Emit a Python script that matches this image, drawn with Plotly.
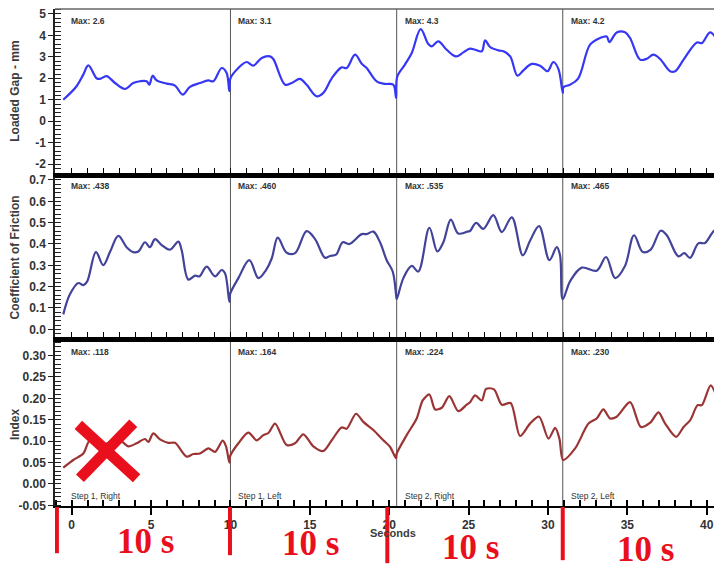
import plotly.graph_objects as go

# ---------------- data ----------------
gap_t = [-0.53, 0.31, 0.73, 1.05, 1.57, 1.78, 2.20, 2.73, 3.36, 3.88, 4.30, 4.72, 4.89, 5.10, 5.35,
         5.98, 6.51, 6.99, 7.45, 8.08, 8.61, 8.92, 9.45, 9.76, 9.93,
         10.0, 10.5, 11.02, 11.44, 11.97, 12.49, 12.7, 13.44, 13.86, 14.38, 14.8, 15.43, 15.85, 16.38,
         17.0, 17.32, 17.85, 18.27, 18.58, 19.21, 19.73, 20.26, 20.43,
         20.5, 20.99, 21.42, 21.98, 22.46, 22.68, 23.09, 23.62, 24.21, 24.67, 25.09, 25.41, 25.83, 26.04,
         26.35, 26.88, 27.2, 27.62, 28.08, 28.45, 28.98, 29.5, 29.97, 30.34, 30.66, 30.93,
         30.97, 31.39, 31.91, 32.65, 33.28, 33.7, 33.86, 34.33, 34.85, 35.17, 35.8, 36.22, 36.64, 37.06,
         37.69, 38.01, 38.54, 39.38, 39.69, 40.21, 40.63, 40.96]
gap_mm = [1.0, 1.63, 2.17, 2.6, 2.0, 1.97, 2.1, 1.78, 1.5, 1.78, 1.86, 1.86, 1.7, 2.12, 1.9,
          1.75, 1.66, 1.24, 1.6, 1.78, 1.9, 1.86, 2.48, 2.25, 1.4,
          2.0, 2.48, 2.76, 2.59, 2.95, 3.02, 2.9, 1.7, 1.78, 1.97, 1.7, 1.16, 1.32, 2.0,
          2.51, 2.48, 3.1, 2.68, 2.48, 1.86, 1.74, 1.7, 1.09,
          2.06, 2.64, 3.18, 4.29, 3.6, 3.49, 3.72, 3.33, 3.02, 3.21, 3.38, 3.33, 3.26, 3.77,
          3.46, 3.3, 3.26, 3.02, 2.12, 2.37, 2.67, 2.59, 2.33, 2.76, 2.43, 1.32,
          1.58, 1.7, 2.0, 3.57, 3.88, 3.95, 3.69, 4.14, 4.15, 3.88, 2.87, 2.91, 3.1, 2.9,
          2.33, 2.33, 2.87, 3.67, 3.64, 4.14, 3.8, 2.95]

cof_t = [-0.53, -0.11, 0.42, 0.73, 0.98, 1.53, 1.99, 2.41, 2.94, 3.46, 3.88, 4.2, 4.62, 4.93, 5.25,
         5.67, 6.19, 6.72, 6.93, 7.35, 7.77, 8.04, 8.5, 9.03, 9.45, 9.66, 9.93,
         9.97, 10.5, 11.19, 11.76, 12.24, 12.6, 12.98, 13.54, 14.07, 14.8, 15.33, 15.96, 16.27, 16.65,
         17.07, 17.49, 18.27, 18.58, 19.0, 19.42, 19.84, 20.22, 20.43,
         20.47, 20.89, 21.42, 21.83, 22.53, 23.03, 23.41, 23.88, 24.35, 24.92, 25.09, 25.47, 25.93,
         26.56, 27.09, 27.72, 28.41, 28.87, 29.44, 30.09, 30.55, 30.76, 30.93,
         31.39, 32.13, 33.07, 33.66, 34.23, 34.85, 35.42, 35.97, 36.47, 37.1, 37.48, 38.21, 38.59,
         38.95, 39.47, 39.89, 40.53, 40.96]
cof_val = [0.070, 0.164, 0.217, 0.207, 0.225, 0.362, 0.301, 0.362, 0.438, 0.385, 0.362, 0.365, 0.408, 0.385, 0.423,
           0.395, 0.373, 0.411, 0.370, 0.233, 0.252, 0.248, 0.294, 0.248, 0.278, 0.263, 0.129,
           0.164, 0.240, 0.324, 0.240, 0.278, 0.332, 0.430, 0.359, 0.357, 0.460, 0.423, 0.335, 0.344, 0.350,
           0.408, 0.400, 0.446, 0.446, 0.458, 0.408, 0.324, 0.271, 0.164,
           0.141, 0.240, 0.297, 0.271, 0.476, 0.365, 0.408, 0.514, 0.449, 0.458, 0.461, 0.499, 0.471,
           0.535, 0.456, 0.525, 0.347, 0.415, 0.484, 0.324, 0.385, 0.347, 0.141,
           0.225, 0.289, 0.275, 0.339, 0.240, 0.297, 0.441, 0.362, 0.374, 0.462, 0.441, 0.342, 0.357,
           0.335, 0.403, 0.405, 0.465, 0.426]

idx_t = [-0.53, 0.1, 0.73, 1.15, 1.78, 2.41, 3.04, 3.57, 4.09, 4.62, 4.83, 5.14, 5.56, 6.09, 6.51,
         7.24, 7.66, 8.08, 8.61, 9.03, 9.51, 9.72, 9.93,
         9.97, 10.5, 11.13, 11.65, 12.07, 12.39, 12.81, 13.54, 14.07, 14.59, 15.22, 15.85, 16.38, 17.0,
         17.32, 17.91, 18.37, 19.0, 19.63, 20.05, 20.43,
         20.47, 21.1, 21.73, 22.11, 22.53, 22.89, 23.31, 23.79, 24.35, 24.88, 25.09, 25.41, 25.83, 26.1,
         26.6, 27.09, 27.65, 28.24, 28.87, 29.44, 30.03, 30.45, 30.72, 30.95,
         31.71, 32.55, 33.07, 33.49, 33.91, 34.33, 35.17, 35.85, 36.44, 36.96, 37.38, 38.07, 38.54,
         38.96, 39.42, 39.69, 40.25, 40.73, 40.96]
idx_val = [0.038, 0.056, 0.071, 0.102, 0.088, 0.098, 0.102, 0.088, 0.095, 0.105, 0.098, 0.118, 0.104, 0.096, 0.096,
           0.064, 0.070, 0.071, 0.083, 0.075, 0.101, 0.088, 0.050,
           0.064, 0.095, 0.120, 0.102, 0.114, 0.119, 0.141, 0.091, 0.095, 0.116, 0.088, 0.077, 0.102, 0.132,
           0.129, 0.164, 0.145, 0.126, 0.102, 0.087, 0.060,
           0.071, 0.114, 0.153, 0.195, 0.209, 0.174, 0.178, 0.205, 0.170, 0.185, 0.191, 0.207, 0.195, 0.222,
           0.221, 0.185, 0.189, 0.112, 0.141, 0.157, 0.106, 0.131, 0.106, 0.056,
           0.083, 0.141, 0.153, 0.174, 0.153, 0.157, 0.191, 0.133, 0.143, 0.167, 0.141, 0.110, 0.133,
           0.149, 0.184, 0.184, 0.230, 0.195, 0.176]

seg_starts = [-0.53, 10.0, 20.47, 30.93]
step_bounds = [10.0, 20.47, 30.93]
gap_max = ["Max: 2.6", "Max: 3.1", "Max: 4.3", "Max: 4.2"]
cof_max = ["Max: .438", "Max: .460", "Max: .535", "Max: .465"]
idx_max = ["Max: .118", "Max: .164", "Max: .224", "Max: .230"]
step_labels = ["Step 1, Right", "Step 1, Left", "Step 2, Right", "Step 2, Left"]

gap_ticks = [-2, -1, 0, 1, 2, 3, 4, 5]
gap_tick_text = ["-2", "-1", "0", "1", "2", "3", "4", "5"]
cof_ticks = [0.0, 0.1, 0.2, 0.3, 0.4, 0.5, 0.6, 0.7]
cof_tick_text = ["0.0", "0.1", "0.2", "0.3", "0.4", "0.5", "0.6", "0.7"]
idx_ticks = [-0.05, 0.0, 0.05, 0.10, 0.15, 0.20, 0.25, 0.30]
idx_tick_text = ["-0.05", "0.00", "0.05", "0.10", "0.15", "0.20", "0.25", "0.30"]
sec_ticks = [0, 5, 10, 15, 20, 25, 30, 35, 40]

red_label_text = ["10 s", "10 s", "10 s", "10 s"]
red_label_x = [4.67, 15.06, 25.14, 36.16]
red_label_y = [-0.072, -0.075, -0.084, -0.087]
red_mark_x = [-0.93, 9.97, 19.88, 30.93]
red_mark_y1 = [-0.095, -0.099, -0.115, -0.109]

# ---------------- figure ----------------
AX = "#222222"
TXT = "#333333"
FONT = "Arial, Liberation Sans, sans-serif"
RED = "#ea0f1c"

fig = go.Figure()
fig.add_trace(go.Scatter(x=gap_t, y=gap_mm, mode="lines", xaxis="x", yaxis="y",
                         line=dict(color="#3636f5", width=2.2, shape="spline", smoothing=1.0)))
fig.add_trace(go.Scatter(x=cof_t, y=cof_val, mode="lines", xaxis="x2", yaxis="y2",
                         line=dict(color="#43439a", width=2.2, shape="spline", smoothing=1.0)))
fig.add_trace(go.Scatter(x=idx_t, y=idx_val, mode="lines", xaxis="x3", yaxis="y3",
                         line=dict(color="#9b3535", width=2.2, shape="spline", smoothing=0.8)))

xr = [-1.05, 40.96]
tickfont = dict(family=FONT, size=12, color=TXT, weight="bold")


def xax(anchor, bottom=False):
    d = dict(range=xr, domain=[0, 1], anchor=anchor, showgrid=False, zeroline=False, automargin=False,
             showline=True, linecolor="black", tickcolor="black")
    if bottom:
        d.update(linewidth=2, ticks="outside", ticklen=7, tickwidth=1.5, tickvals=sec_ticks,
                 tickfont=tickfont, ticklabeloverflow="allow",
                 minor=dict(ticks="inside", ticklen=6, dtick=1, tick0=0, tickcolor="black", showgrid=False))
    else:
        d.update(linewidth=5, ticks="inside", ticklen=5, tickwidth=1.2, dtick=1, tick0=0,
                 showticklabels=False)
    return d


def yax(dom, rng, vals, text, mdt):
    return dict(domain=dom, range=rng, showgrid=False, zeroline=False, showline=True, automargin=False,
                linecolor=AX, linewidth=1.5, ticks="outside", ticklen=5, tickcolor=AX,
                tickvals=vals, ticktext=text, tickfont=tickfont, ticklabeloverflow="allow",
                minor=dict(ticks="inside", ticklen=6, dtick=mdt, tickcolor=AX, showgrid=False))


annotations = []
shapes = []

# panel-top "Max" labels and bottom "Step" labels
for i, s in enumerate(seg_starts):
    annotations.append(dict(x=s, xref="x", y=1, yref="y domain", text=gap_max[i], showarrow=False,
                            xanchor="left", yanchor="middle", xshift=6, yshift=-12,
                            font=dict(family=FONT, size=8.5, color=TXT, weight="bold")))
    annotations.append(dict(x=s, xref="x2", y=1, yref="y2 domain", text=cof_max[i], showarrow=False,
                            xanchor="left", yanchor="middle", xshift=6, yshift=-9,
                            font=dict(family=FONT, size=8.5, color=TXT, weight="bold")))
    annotations.append(dict(x=s, xref="x3", y=1, yref="y3 domain", text=idx_max[i], showarrow=False,
                            xanchor="left", yanchor="middle", xshift=6, yshift=-10,
                            font=dict(family=FONT, size=8.5, color=TXT, weight="bold")))
    annotations.append(dict(x=s, xref="x3", y=0, yref="y3 domain", text=step_labels[i], showarrow=False,
                            xanchor="left", yanchor="middle", xshift=6, yshift=10,
                            font=dict(family=FONT, size=8.5, color=TXT)))

# axis titles
for ref, title in [("y", "Loaded Gap - mm"), ("y2", "Coefficient of Friction"), ("y3", "Index")]:
    annotations.append(dict(x=-0.06, xref="paper", y=0.5, yref=ref + " domain", text=title,
                            textangle=-90, showarrow=False, xanchor="center", yanchor="middle",
                            font=dict(family=FONT, size=12, color="#3c3c3c", weight="bold")))
annotations.append(dict(x=0.507, xref="paper", y=-0.054, yref="paper", text="Seconds", showarrow=False,
                        xanchor="center", yanchor="middle",
                        font=dict(family=FONT, size=11, color="#3c3c3c", weight="bold")))

# red "10 s" labels and markers
for i in range(4):
    annotations.append(dict(x=red_label_x[i], xref="x3", y=red_label_y[i], yref="paper",
                            text=red_label_text[i], showarrow=False, xanchor="center", yanchor="middle",
                            font=dict(family="Liberation Serif, Times New Roman, serif", size=35,
                                      color=RED, weight="bold")))
    shapes.append(dict(type="line", xref="x3", yref="paper", x0=red_mark_x[i], x1=red_mark_x[i],
                       y0=-0.002, y1=red_mark_y1[i], line=dict(color=RED, width=4)))

# step dividers
for b in step_bounds:
    shapes.append(dict(type="line", xref="x", yref="paper", x0=b, x1=b, y0=0, y1=1,
                       line=dict(color="#555555", width=1), layer="below"))
# top frame
shapes.append(dict(type="line", xref="paper", yref="paper", x0=0, x1=1, y0=1, y1=1,
                   line=dict(color="#666666", width=1.5)))

# red cross
shapes.append(dict(type="line", xref="x3", yref="y3", x0=0.42, y0=0.138, x1=4.09, y1=0.0133,
                   line=dict(color=RED, width=11)))
shapes.append(dict(type="line", xref="x3", yref="y3", x0=3.88, y0=0.1417, x1=0.52, y1=0.0133,
                   line=dict(color=RED, width=11)))

# the page body adds an 8px margin, so the figure is 8px smaller and margins are shifted by 8
fig.update_layout(
    width=714, height=557,
    margin=dict(l=47, r=0, t=1, b=59, autoexpand=False),
    paper_bgcolor="white", plot_bgcolor="white",
    showlegend=False,
    font=dict(family=FONT, color=TXT),
    xaxis=xax("y"),
    xaxis2=xax("y2"),
    xaxis3=xax("y3", bottom=True),
    yaxis=yax([0.6710, 1.0], [-2.397, 5.233], gap_ticks, gap_tick_text, 0.2),
    yaxis2=yax([0.3394, 0.6610], [-0.0375, 0.7117], cof_ticks, cof_tick_text, 0.02),
    yaxis3=yax([0.0, 0.3294], [-0.0514, 0.3308], idx_ticks, idx_tick_text, 0.01),
    annotations=annotations,
    shapes=shapes,
)

fig.write_html("out.html")
